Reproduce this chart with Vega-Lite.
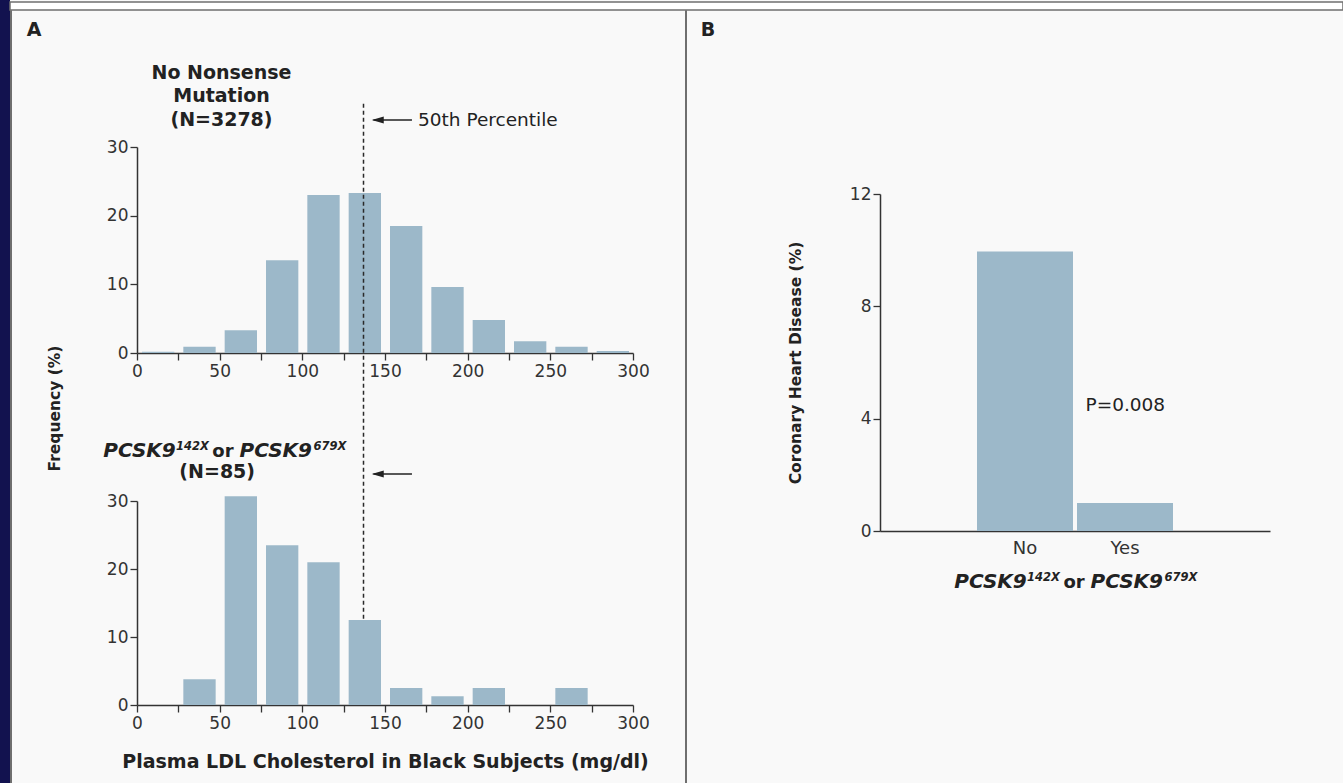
{
  "$schema": "https://vega.github.io/schema/vega-lite/v6.json",
  "background": "#f9f9f9",
  "padding": {"left": 0, "top": 0, "right": 0, "bottom": 0},
  "bounds": "flush",
  "spacing": 0,
  "config": {
    "view": {"stroke": null},
    "font": "DejaVu Sans",
    "text": {"font": "DejaVu Sans", "color": "#222"},
    "axis": {
      "labelFont": "DejaVu Sans",
      "titleFont": "DejaVu Sans",
      "labelFontSize": 17,
      "labelColor": "#333",
      "titleColor": "#222",
      "titleFontWeight": "bold",
      "domainColor": "#333",
      "domainWidth": 1.5,
      "tickColor": "#333",
      "tickWidth": 1.3,
      "tickSize": 7,
      "grid": false,
      "labelFlush": false,
      "labelOverlap": false
    }
  },
  "hconcat": [
    {
      "width": 10, "height": 783,
      "view": {"fill": "#12124f", "stroke": null},
      "data": {"values": []},
      "mark": "rect",
      "encoding": {}
    },
    {
      "bounds": "flush",
      "spacing": 1,
      "vconcat": [
        {"width": 1, "height": 1, "data": {"values": []}, "mark": "rect", "encoding": {}},
        {
          "bounds": "flush",
          "spacing": 0,
          "vconcat": [
            {
              "width": 1333, "height": 8,
              "view": {"fill": "#ffffff", "stroke": "#6f6f6f", "strokeWidth": 1.5},
              "data": {"values": []},
              "mark": "rect",
              "encoding": {}
            },
            {
              "bounds": "flush",
              "spacing": 126,
              "hconcat": [
                {
                  "width": 1, "height": 773,
                  "view": {"stroke": "#6f6f6f", "strokeWidth": 1},
                  "data": {"values": []},
                  "mark": "rect",
                  "encoding": {}
                },
                {
                  "bounds": "flush",
                  "spacing": 548,
                  "hconcat": [
                    {
                      "bounds": "flush",
                      "spacing": 136,
                      "vconcat": [
                        {"width": 496, "height": 1, "data": {"values": []}, "mark": "rect", "encoding": {}},
                        {
                          "bounds": "flush",
                          "spacing": 148,
                          "vconcat": [
                            {
                              "width": 496, "height": 206,
                              "layer": [
                                {
                                  "data": {"values": [
                                    {"lo": 0, "hi": 25, "pct": 0.2},
                                    {"lo": 25, "hi": 50, "pct": 0.9},
                                    {"lo": 50, "hi": 75, "pct": 3.3},
                                    {"lo": 75, "hi": 100, "pct": 13.5},
                                    {"lo": 100, "hi": 125, "pct": 23.0},
                                    {"lo": 125, "hi": 150, "pct": 23.3},
                                    {"lo": 150, "hi": 175, "pct": 18.5},
                                    {"lo": 175, "hi": 200, "pct": 9.6},
                                    {"lo": 200, "hi": 225, "pct": 4.8},
                                    {"lo": 225, "hi": 250, "pct": 1.7},
                                    {"lo": 250, "hi": 275, "pct": 0.9},
                                    {"lo": 275, "hi": 300, "pct": 0.3}
                                  ]},
                                  "mark": {"type": "bar", "color": "#9cb8c9", "binSpacing": 9},
                                  "encoding": {
                                    "x": {"field": "lo", "type": "quantitative", "bin": "binned",
                                          "scale": {"domain": [0, 300], "nice": false},
                                          "axis": {"title": null, "values": [0,25,50,75,100,125,150,175,200,225,250,275,300],
                                                   "labelExpr": "datum.value % 50 === 0 ? datum.label : ''", "labelPadding": 3}},
                                    "x2": {"field": "hi"},
                                    "y": {"field": "pct", "type": "quantitative",
                                          "scale": {"domain": [0, 30], "nice": false},
                                          "axis": {"values": [0, 10, 20, 30], "labelPadding": 2,
                                                   "title": "Frequency (%)", "titleFontSize": 15.5, "titleAngle": 270,
                                                   "titleBaseline": "alphabetic", "titleAlign": "center",
                                                   "titleX": -78, "titleY": 261}}
                                  }
                                },
                                {
                                  "data": {"values": [{}]},
                                  "mark": {"type": "rule", "strokeDash": [4, 3], "color": "#2a2a2a", "strokeWidth": 1.5},
                                  "encoding": {"x": {"datum": 137}, "y": {"datum": 36.3}, "y2": {"datum": -51.3}}
                                },
                                {
                                  "data": {"values": [{}]},
                                  "mark": {"type": "rule", "color": "#222", "strokeWidth": 1.3},
                                  "encoding": {"x": {"datum": 143}, "x2": {"datum": 166.3}, "y": {"datum": 33.93}}
                                },
                                {
                                  "data": {"values": [{}]},
                                  "mark": {"type": "point", "shape": "M0,0L1,-0.3L1,0.3Z", "size": 576, "filled": true, "color": "#222", "opacity": 1},
                                  "encoding": {"x": {"datum": 142}, "y": {"datum": 33.93}}
                                },
                                {
                                  "data": {"values": [{}]},
                                  "mark": {"type": "text", "text": "50th Percentile", "align": "left", "baseline": "middle", "fontSize": 18.5},
                                  "encoding": {"x": {"datum": 170}, "y": {"datum": 33.93}}
                                },
                                {
                                  "data": {"values": [{}]},
                                  "mark": {"type": "text", "text": ["No Nonsense", "Mutation", "(N=3278)"], "align": "center", "baseline": "middle", "lineHeight": 23.5, "fontSize": 19, "fontWeight": "bold"},
                                  "encoding": {"x": {"datum": 51.1}, "y": {"datum": 40.78}}
                                },
                                {
                                  "data": {"values": [{}]},
                                  "mark": {"type": "text", "text": "A", "align": "center", "baseline": "middle", "fontSize": 19, "fontWeight": "bold"},
                                  "encoding": {"x": {"datum": -62.3}, "y": {"datum": 47.04}}
                                }
                              ]
                            },
                            {
                              "width": 496, "height": 204,
                              "layer": [
                                {
                                  "data": {"values": [
                                    {"lo": 25, "hi": 50, "pct": 3.8},
                                    {"lo": 50, "hi": 75, "pct": 30.7},
                                    {"lo": 75, "hi": 100, "pct": 23.5},
                                    {"lo": 100, "hi": 125, "pct": 21.0},
                                    {"lo": 125, "hi": 150, "pct": 12.5},
                                    {"lo": 150, "hi": 175, "pct": 2.5},
                                    {"lo": 175, "hi": 200, "pct": 1.3},
                                    {"lo": 200, "hi": 225, "pct": 2.5},
                                    {"lo": 250, "hi": 275, "pct": 2.5}
                                  ]},
                                  "mark": {"type": "bar", "color": "#9cb8c9", "binSpacing": 9},
                                  "encoding": {
                                    "x": {"field": "lo", "type": "quantitative", "bin": "binned",
                                          "scale": {"domain": [0, 300], "nice": false},
                                          "axis": {"values": [0,25,50,75,100,125,150,175,200,225,250,275,300],
                                                   "labelExpr": "datum.value % 50 === 0 ? datum.label : ''", "labelPadding": 3,
                                                   "title": "Plasma LDL Cholesterol in Black Subjects (mg/dl)", "titleFontSize": 19,
                                                   "titleBaseline": "alphabetic", "titleY": 62}},
                                    "x2": {"field": "hi"},
                                    "y": {"field": "pct", "type": "quantitative",
                                          "scale": {"domain": [0, 30], "nice": false},
                                          "axis": {"values": [0, 10, 20, 30], "labelPadding": 2, "title": null}}
                                  }
                                },
                                {
                                  "data": {"values": [{}]},
                                  "mark": {"type": "rule", "color": "#222", "strokeWidth": 1.3},
                                  "encoding": {"x": {"datum": 143}, "x2": {"datum": 166.3}, "y": {"datum": 33.97}}
                                },
                                {
                                  "data": {"values": [{}]},
                                  "mark": {"type": "point", "shape": "M0,0L1,-0.3L1,0.3Z", "size": 576, "filled": true, "color": "#222", "opacity": 1},
                                  "encoding": {"x": {"datum": 142}, "y": {"datum": 33.97}}
                                },
                                {
                                  "data": {"values": [{}]},
                                  "mark": {"type": "text", "text": "PCSK9", "align": "center", "baseline": "alphabetic", "fontSize": 20, "fontWeight": "bold", "fontStyle": "italic"},
                                  "encoding": {"x": {"datum": 1.51}, "y": {"datum": 36.47}}
                                },
                                {
                                  "data": {"values": [{}]},
                                  "mark": {"type": "text", "text": "142X", "align": "center", "baseline": "alphabetic", "fontSize": 11.5, "fontWeight": "bold", "fontStyle": "italic"},
                                  "encoding": {"x": {"datum": 33.57}, "y": {"datum": 37.5}}
                                },
                                {
                                  "data": {"values": [{}]},
                                  "mark": {"type": "text", "text": "or", "align": "center", "baseline": "alphabetic", "fontSize": 18, "fontWeight": "bold"},
                                  "encoding": {"x": {"datum": 52.0}, "y": {"datum": 36.47}}
                                },
                                {
                                  "data": {"values": [{}]},
                                  "mark": {"type": "text", "text": "PCSK9", "align": "center", "baseline": "alphabetic", "fontSize": 20, "fontWeight": "bold", "fontStyle": "italic"},
                                  "encoding": {"x": {"datum": 83.95}, "y": {"datum": 36.47}}
                                },
                                {
                                  "data": {"values": [{}]},
                                  "mark": {"type": "text", "text": "679X", "align": "center", "baseline": "alphabetic", "fontSize": 11.5, "fontWeight": "bold", "fontStyle": "italic"},
                                  "encoding": {"x": {"datum": 116.7}, "y": {"datum": 37.5}}
                                },
                                {
                                  "data": {"values": [{}]},
                                  "mark": {"type": "text", "text": "(N=85)", "align": "center", "baseline": "alphabetic", "fontSize": 19, "fontWeight": "bold"},
                                  "encoding": {"x": {"datum": 48.5}, "y": {"datum": 33.4}}
                                }
                              ]
                            }
                          ]
                        }
                      ]
                    },
                    {
                      "bounds": "flush",
                      "spacing": 194,
                      "hconcat": [
                        {
                          "width": 1, "height": 773,
                          "view": {"stroke": "#6f6f6f", "strokeWidth": 1},
                          "data": {"values": []},
                          "mark": "rect",
                          "encoding": {}
                        },
                        {
                          "bounds": "flush",
                          "spacing": 183,
                          "vconcat": [
                            {"width": 390, "height": 1, "data": {"values": []}, "mark": "rect", "encoding": {}},
                            {
                              "width": 390, "height": 337,
                              "layer": [
                                {
                                  "data": {"values": [
                                    {"mut": "No", "chd": 9.95},
                                    {"mut": "Yes", "chd": 1.0}
                                  ]},
                                  "mark": {"type": "bar", "color": "#9cb8c9"},
                                  "encoding": {
                                    "x": {"field": "mut", "type": "nominal",
                                          "scale": {"domain": ["No", "Yes"], "paddingInner": 0.04, "paddingOuter": 0.97},
                                          "axis": {"title": null, "ticks": false, "labelPadding": 8, "labelAngle": 0, "labelFontSize": 18}},
                                    "y": {"field": "chd", "type": "quantitative",
                                          "scale": {"domain": [0, 12], "nice": false},
                                          "axis": {"values": [0, 4, 8, 12], "labelPadding": 2,
                                                   "title": "Coronary Heart Disease (%)", "titleFontSize": 15.5, "titleAngle": 270,
                                                   "titleBaseline": "alphabetic", "titleAlign": "center",
                                                   "titleX": -80, "titleY": 168.5}}
                                  }
                                },
                                {
                                  "data": {"values": [{}]},
                                  "mark": {"type": "text", "text": "P=0.008", "align": "left", "baseline": "middle", "fontSize": 18.5, "dx": -39.5},
                                  "encoding": {"x": {"datum": "Yes", "type": "nominal"}, "y": {"datum": 4.49}}
                                },
                                {
                                  "data": {"values": [{}]},
                                  "mark": {"type": "text", "text": "B", "align": "center", "baseline": "middle", "fontSize": 19, "fontWeight": "bold", "dx": -317},
                                  "encoding": {"x": {"datum": "No", "type": "nominal"}, "y": {"datum": 17.84}}
                                },
                                {
                                  "data": {"values": [{}]},
                                  "mark": {"type": "text", "text": "PCSK9", "align": "center", "baseline": "alphabetic", "fontSize": 20, "fontWeight": "bold", "fontStyle": "italic", "dx": -34.5},
                                  "encoding": {"x": {"datum": "No", "type": "nominal"}, "y": {"datum": -2.03}}
                                },
                                {
                                  "data": {"values": [{}]},
                                  "mark": {"type": "text", "text": "142X", "align": "center", "baseline": "alphabetic", "fontSize": 11.5, "fontWeight": "bold", "fontStyle": "italic", "dx": 18.5},
                                  "encoding": {"x": {"datum": "No", "type": "nominal"}, "y": {"datum": -1.78}}
                                },
                                {
                                  "data": {"values": [{}]},
                                  "mark": {"type": "text", "text": "or", "align": "center", "baseline": "alphabetic", "fontSize": 18, "fontWeight": "bold", "dx": 49},
                                  "encoding": {"x": {"datum": "No", "type": "nominal"}, "y": {"datum": -2.03}}
                                },
                                {
                                  "data": {"values": [{}]},
                                  "mark": {"type": "text", "text": "PCSK9", "align": "center", "baseline": "alphabetic", "fontSize": 20, "fontWeight": "bold", "fontStyle": "italic", "dx": 101.8},
                                  "encoding": {"x": {"datum": "No", "type": "nominal"}, "y": {"datum": -2.03}}
                                },
                                {
                                  "data": {"values": [{}]},
                                  "mark": {"type": "text", "text": "679X", "align": "center", "baseline": "alphabetic", "fontSize": 11.5, "fontWeight": "bold", "fontStyle": "italic", "dx": 156},
                                  "encoding": {"x": {"datum": "No", "type": "nominal"}, "y": {"datum": -1.78}}
                                }
                              ]
                            }
                          ]
                        }
                      ]
                    }
                  ]
                }
              ]
            }
          ]
        }
      ]
    }
  ]
}
